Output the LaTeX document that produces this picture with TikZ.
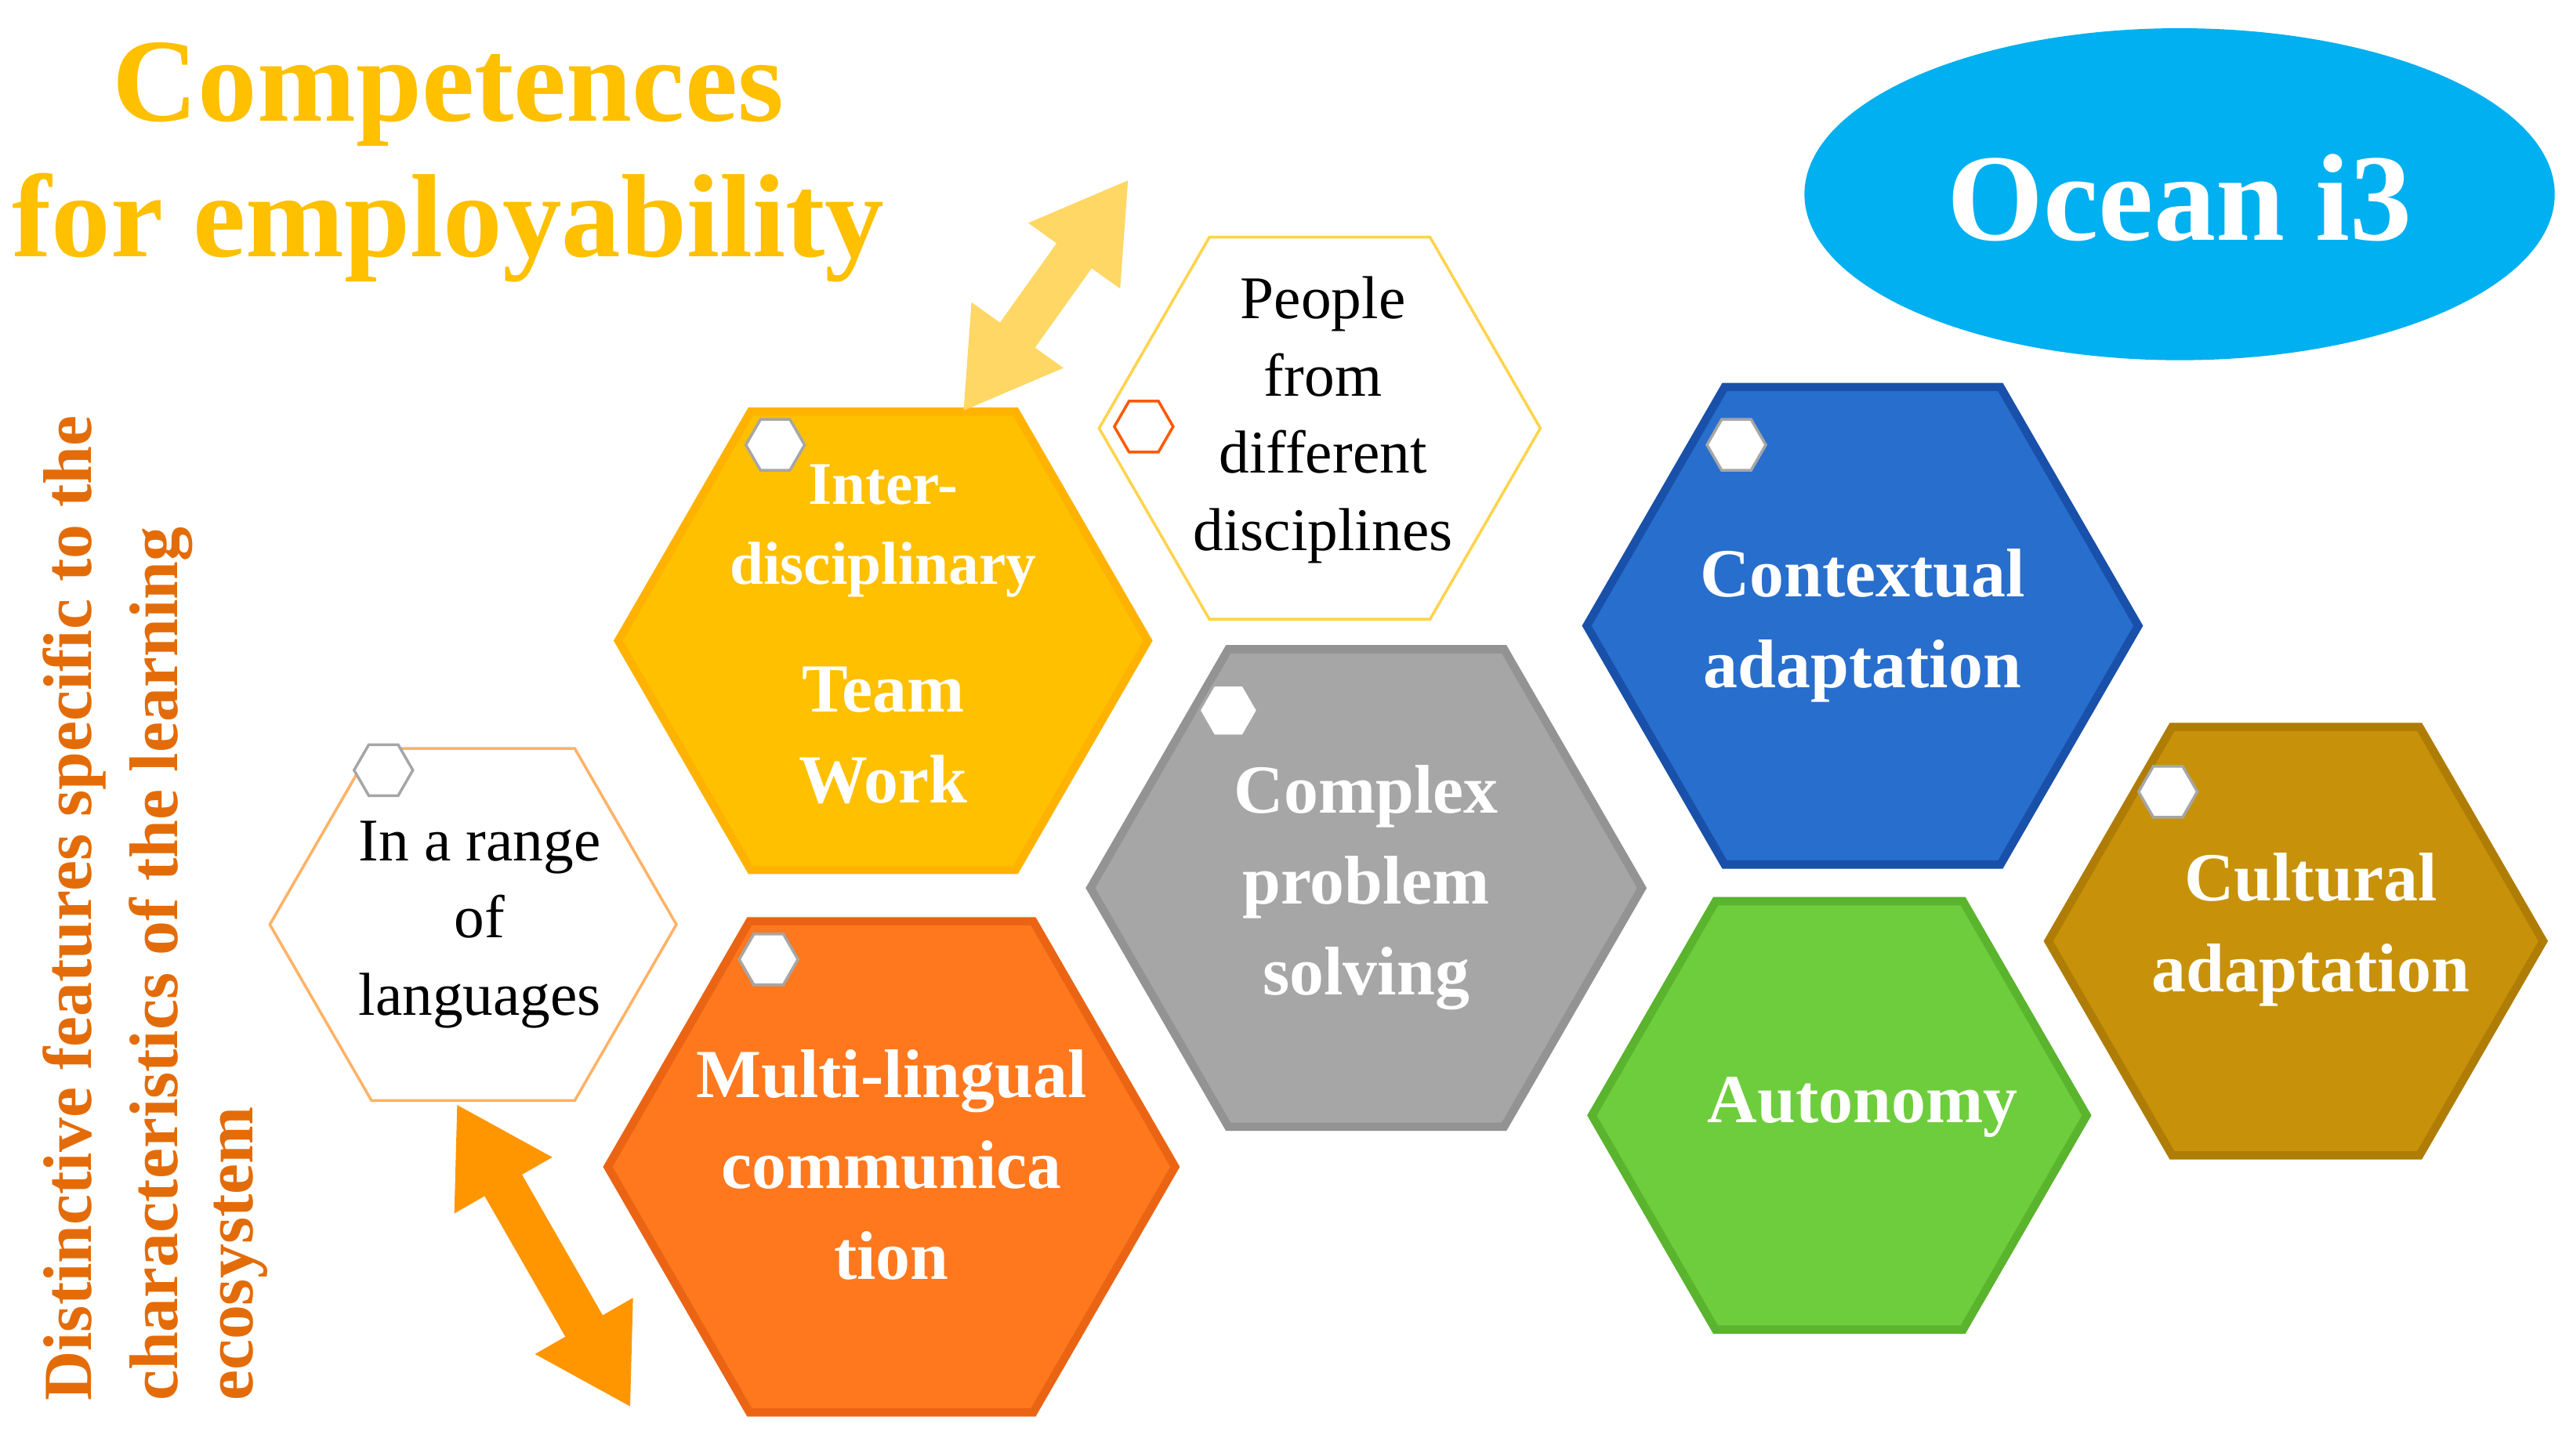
\documentclass[tikz,border=0pt]{standalone}
\usepackage{fontspec}
\setmainfont{Liberation Serif}
\usetikzlibrary{shapes.geometric,arrows.meta}
\definecolor{ttl}{HTML}{FFC000}
\definecolor{vt}{HTML}{E36C09}
\definecolor{ocean}{HTML}{00B0F0}
\tikzset{
 hex/.style={regular polygon,regular polygon sides=6,inner sep=0pt,minimum size=#1*0.0402cm},
 bev/.style={line width=3pt},
 wt/.style={text=white,font=\bfseries\fontsize{25}{33}\selectfont,align=center},
 bt/.style={text=black,font=\fontsize{22}{28}\selectfont,align=center},
 ico/.style={regular polygon,regular polygon sides=6,minimum size=0.75cm,inner sep=0pt,draw=gray!70,line width=1pt,fill=white},
 dbl/.style={line width=0.55cm,{Triangle[length=1.2cm,width=1.35cm]}-{Triangle[length=1.2cm,width=1.35cm]}},
}
\begin{document}
\begin{tikzpicture}[x=0.02118cm,y=-0.02118cm]
\useasboundingbox (0,0) rectangle (1550,877);
\fill[white] (0,0) rectangle (1550,877);
% title
\node[text=ttl,font=\bfseries\fontsize{43}{48}\selectfont] (t1) at (270,57) {Competences};
\node[text=ttl,font=\bfseries\fontsize{43}{48}\selectfont] (t2) at (270,137) {for employability};
\node[ellipse,inner sep=0pt,fill=ocean,minimum width=452*0.02118cm,minimum height=200*0.02118cm] (oc) at (1313,117) {};
\node[text=white,font=\bfseries\fontsize{45}{50}\selectfont] (oct) at (1313,119) {Ocean i3};
\node[rotate=90,text=vt,font=\bfseries\fontsize{25}{31}\selectfont,anchor=west] (v1) at (45,850) {Distinctive features specific to the};
\node[rotate=90,text=vt,font=\bfseries\fontsize{25}{31}\selectfont,anchor=west] (v2) at (97,850) {characteristics of the learning};
\node[rotate=90,text=vt,font=\bfseries\fontsize{25}{31}\selectfont,anchor=west] (v3) at (145,850) {ecosystem};
% hexagons
\node[hex=140,draw=ttl!70,line width=1pt,fill=white] (pe) at (795,258) {};
\node[hex=129,draw=orange!60,line width=1pt,fill=white] (ra) at (285,557) {};
\node[hex=168,fill=ttl,draw=ttl!80!orange,bev] (tw) at (532,386) {};
\node[hex=180,fill={rgb,255:red,255;green,120;blue,30},draw={rgb,255:red,235;green,100;blue,20},bev] (ml) at (537,703) {};
\node[hex=175,fill=gray!70,draw=gray!85,bev] (cp) at (823,535) {};
\node[hex=175,fill={rgb,255:red,40;green,110;blue,205},draw={rgb,255:red,25;green,80;blue,170},bev] (ca) at (1122,377) {};
\node[hex=157,fill={rgb,255:red,110;green,205;blue,60},draw={rgb,255:red,90;green,180;blue,45},bev] (au) at (1108,672) {};
\node[hex=157,fill={rgb,255:red,200;green,145;blue,10},draw={rgb,255:red,175;green,125;blue,5},bev] (cu) at (1383,567) {};
% icons
\node[ico] (i1) at (467,268) {};
\node[ico,draw=orange!70!red] (i2) at (689,257) {};
\node[ico] (i3) at (231,464) {};
\node[ico] (i4) at (463,578) {};
\node[ico] (i5) at (740,428) {};
\node[ico] (i6) at (1046,268) {};
\node[ico] (i7) at (1306,477) {};
% texts
\node[bt] (pet) at (797,253) {People\\from\\different\\disciplines};
\node[bt] (rat) at (289,557) {In a range\\of\\languages};
\node[wt,font=\bfseries\fontsize{22}{29}\selectfont] (tw1) at (532,320) {Inter-\\disciplinary};
\node[wt] (tw2) at (532,443) {Team\\Work};
\node[wt] (mlt) at (537,702) {Multi-lingual\\communica\\tion};
\node[wt] (cpt) at (823,535) {Complex\\problem\\solving};
\node[wt] (cat) at (1122,377) {Contextual\\adaptation};
\node[wt] (aut) at (1122,667) {Autonomy};
\node[wt] (cut) at (1392,560) {Cultural\\adaptation};
% arrows
\coordinate (a1) at (580,248); \coordinate (a2) at (680,108);
\draw[dbl,draw={rgb,255:red,255;green,215;blue,100},fill={rgb,255:red,255;green,215;blue,100}] (a1) -- (a2);
\coordinate (b1) at (275,665); \coordinate (b2) at (380,848);
\draw[dbl,draw={rgb,255:red,255;green,150;blue,0},fill={rgb,255:red,255;green,150;blue,0}] (b1) -- (b2);
\end{tikzpicture}
\end{document}
